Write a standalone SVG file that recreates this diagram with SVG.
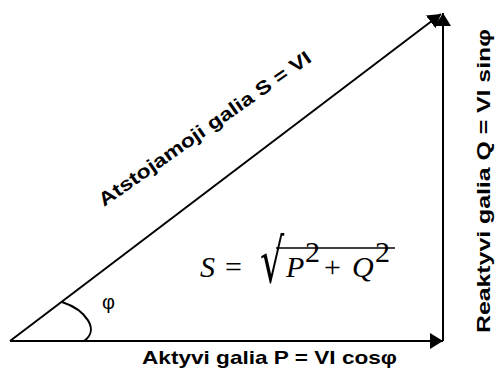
<svg xmlns="http://www.w3.org/2000/svg" width="499" height="371" viewBox="0 0 499 371">
<style>
.ln{stroke:#000;stroke-width:2;fill:none}
.lbl{font-family:"Liberation Sans",Arial,sans-serif;font-weight:bold;font-size:19px;fill:#000}
.mth{font-family:"Liberation Serif","Times New Roman",serif;font-size:30px;fill:#000}
.it{font-style:italic}
</style>
<defs>
<marker id="ah" markerUnits="userSpaceOnUse" markerWidth="14" markerHeight="16" refX="13" refY="8" orient="auto">
<path d="M0,0 L13,8 L0,16 z" fill="#000"/>
</marker>
</defs>
<rect width="499" height="371" fill="#fff"/>
<g id="connectors">
<line class="ln" x1="10" y1="341" x2="443" y2="341" marker-end="url(#ah)"/>
<line class="ln" x1="443" y1="341" x2="443" y2="13" marker-end="url(#ah)"/>
<line class="ln" x1="10" y1="341" x2="441" y2="14" marker-end="url(#ah)"/>
<path class="ln" d="M62,302 C86,310 100,330 84,341"/>
</g>
<g id="label-phi">
<text x="102" y="309" font-family="Liberation Sans,Arial,sans-serif" font-size="20">φ</text>
</g>
<g id="label-s">
<text class="lbl" transform="translate(104,207) rotate(-35)" textLength="255" lengthAdjust="spacingAndGlyphs">Atstojamoji galia S = VI</text>
</g>
<g id="label-p">
<text class="lbl" x="142" y="364" textLength="255" lengthAdjust="spacingAndGlyphs">Aktyvi galia P = VI cosφ</text>
</g>
<g id="label-q">
<text class="lbl" transform="translate(490,333) rotate(-90)" textLength="304" lengthAdjust="spacingAndGlyphs">Reaktyvi galia Q = VI sinφ</text>
</g>
<g id="formula">
<text class="mth it" x="200" y="277">S</text>
<text class="mth" x="225" y="277">=</text>
<text transform="translate(260,282) scale(1,1.6)" font-family="DejaVu Sans,sans-serif" font-size="38">√</text>
<line x1="276" y1="248" x2="395" y2="248" stroke="#000" stroke-width="1.4"/>
<text class="mth it" x="286" y="277">P</text>
<text class="mth" x="305" y="262" font-size="19">2</text>
<text class="mth" x="324" y="277">+</text>
<text class="mth it" x="352" y="277">Q</text>
<text class="mth" x="375" y="262" font-size="19">2</text>
</g>
</svg>
